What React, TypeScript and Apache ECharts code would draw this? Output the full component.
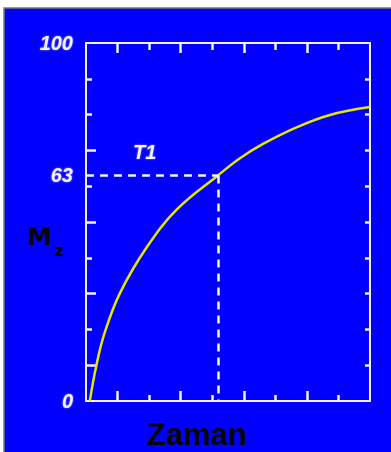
import React, { useEffect, useRef } from "react";
import * as echarts from "echarts";

// Longitudinal magnetisation recovery M_z versus time
const TIME = [0.12, 0.33, 0.59, 1.08, 1.93, 2.88, 4.18, 4.88, 5.61, 6.69, 7.73, 9.0];
const MZ = [0, 10, 19, 30.2, 43, 53.5, 63, 67.8, 71.8, 76.5, 79.9, 82.1];

// T1 marker: time at which M_z reaches 63 %
const T1_TIME = 4.18;
const T1_LEVEL = 63;

// Tick and label positions
const X_LONG_TICKS = [1, 3, 5, 7];
const X_SHORT_TICKS = [2, 4, 6, 8];
const Y_LONG_TICKS = [10, 30, 50, 70];
const Y_SHORT_TICKS = [20, 40, 60, 80, 90];
const Y_RIGHT_TICKS = [10, 20, 30, 40, 50, 60, 70, 80, 90];
const Y_LABELS = [0, 63, 100];

const WHITE = "#f2f2ff";

export default function App() {
  const ref = useRef<HTMLDivElement>(null);

  useEffect(() => {
    if (!ref.current) return;
    const chart = echarts.init(ref.current, undefined, { renderer: "svg" });

    const xBase = {
      type: "value" as const,
      min: 0,
      max: 9,
      axisLabel: { show: false },
      splitLine: { show: false },
    };
    const yBase = {
      type: "value" as const,
      min: 0,
      max: 100,
      splitLine: { show: false },
    };
    const frameLine = { show: true, onZero: false, lineStyle: { color: WHITE, width: 2 } };
    const noLine = { show: false, onZero: false };
    const tick = (values: number[], length: number) => ({
      show: true,
      inside: true,
      length,
      customValues: values,
      lineStyle: { color: WHITE, width: 2.5 },
    });

    const labelStyle = {
      color: WHITE,
      fontFamily: "Liberation Sans, Arial, sans-serif",
      fontStyle: "italic" as const,
      fontWeight: "bold" as const,
      fontSize: 20,
      textShadowColor: "rgba(255,255,255,0.5)",
      textShadowBlur: 2,
    };

    chart.setOption({
      animation: false,
      backgroundColor: "#ffffff",
      grid: { left: 86, right: 21, top: 43, bottom: 51 },
      graphic: [
        {
          type: "rect",
          z: -10,
          shape: { x: 4, y: 8, width: 400, height: 460 },
          style: { fill: "#0000fc", stroke: "#7a7a7a", lineWidth: 1.5 },
        },
        {
          type: "text",
          x: 133,
          y: 152,
          style: {
            text: "T1",
            fill: WHITE,
            font: "italic bold 20px 'Liberation Sans', Arial, sans-serif",
            verticalAlign: "middle",
            textShadowColor: "rgba(255,255,255,0.5)",
            textShadowBlur: 2,
          },
        },
        {
          type: "text",
          x: 27,
          y: 236,
          style: {
            text: "M",
            fill: "#050505",
            font: "bold 25px 'DejaVu Sans', sans-serif",
            verticalAlign: "middle",
          },
        },
        {
          type: "text",
          x: 55,
          y: 251,
          style: {
            text: "z",
            fill: "#050505",
            font: "bold 15px 'DejaVu Sans', sans-serif",
            verticalAlign: "middle",
          },
        },
        {
          type: "text",
          x: 147,
          y: 434,
          style: {
            text: "Zaman",
            fill: "#050505",
            font: "bold 31px 'Liberation Sans', Arial, sans-serif",
            verticalAlign: "middle",
          },
        },
      ],
      xAxis: [
        { ...xBase, position: "bottom", axisLine: frameLine, axisTick: tick(X_LONG_TICKS, 10) },
        { ...xBase, position: "bottom", axisLine: noLine, axisTick: tick(X_SHORT_TICKS, 6) },
        { ...xBase, position: "top", axisLine: frameLine, axisTick: tick(X_LONG_TICKS, 10) },
        { ...xBase, position: "top", axisLine: noLine, axisTick: tick(X_SHORT_TICKS, 7) },
      ],
      yAxis: [
        {
          ...yBase,
          position: "left",
          axisLine: frameLine,
          axisTick: tick(Y_LONG_TICKS, 10),
          axisLabel: { ...labelStyle, customValues: Y_LABELS, margin: 13 },
        },
        {
          ...yBase,
          position: "left",
          axisLine: noLine,
          axisTick: tick(Y_SHORT_TICKS, 6),
          axisLabel: { show: false },
        },
        {
          ...yBase,
          position: "right",
          axisLine: frameLine,
          axisTick: tick(Y_RIGHT_TICKS, 5),
          axisLabel: { show: false },
        },
      ],
      series: [
        {
          type: "line",
          xAxisIndex: 0,
          yAxisIndex: 0,
          data: TIME.map((t, i) => [t, MZ[i]]),
          smooth: 0.4,
          showSymbol: false,
          lineStyle: { color: "#e6e600", width: 2.5 },
          markLine: {
            silent: true,
            symbol: "none",
            label: { show: false },
            lineStyle: { color: WHITE, width: 2.5, type: [8, 6] },
            data: [
              [{ coord: [0, T1_LEVEL] }, { coord: [T1_TIME, T1_LEVEL] }],
              [{ coord: [T1_TIME, T1_LEVEL] }, { coord: [T1_TIME, 0] }],
            ],
          },
        },
      ],
    });

    return () => chart.dispose();
  }, []);

  return (
    <div
      ref={ref}
      style={{ position: "fixed", left: 0, top: 0, width: 391, height: 452 }}
    />
  );
}
